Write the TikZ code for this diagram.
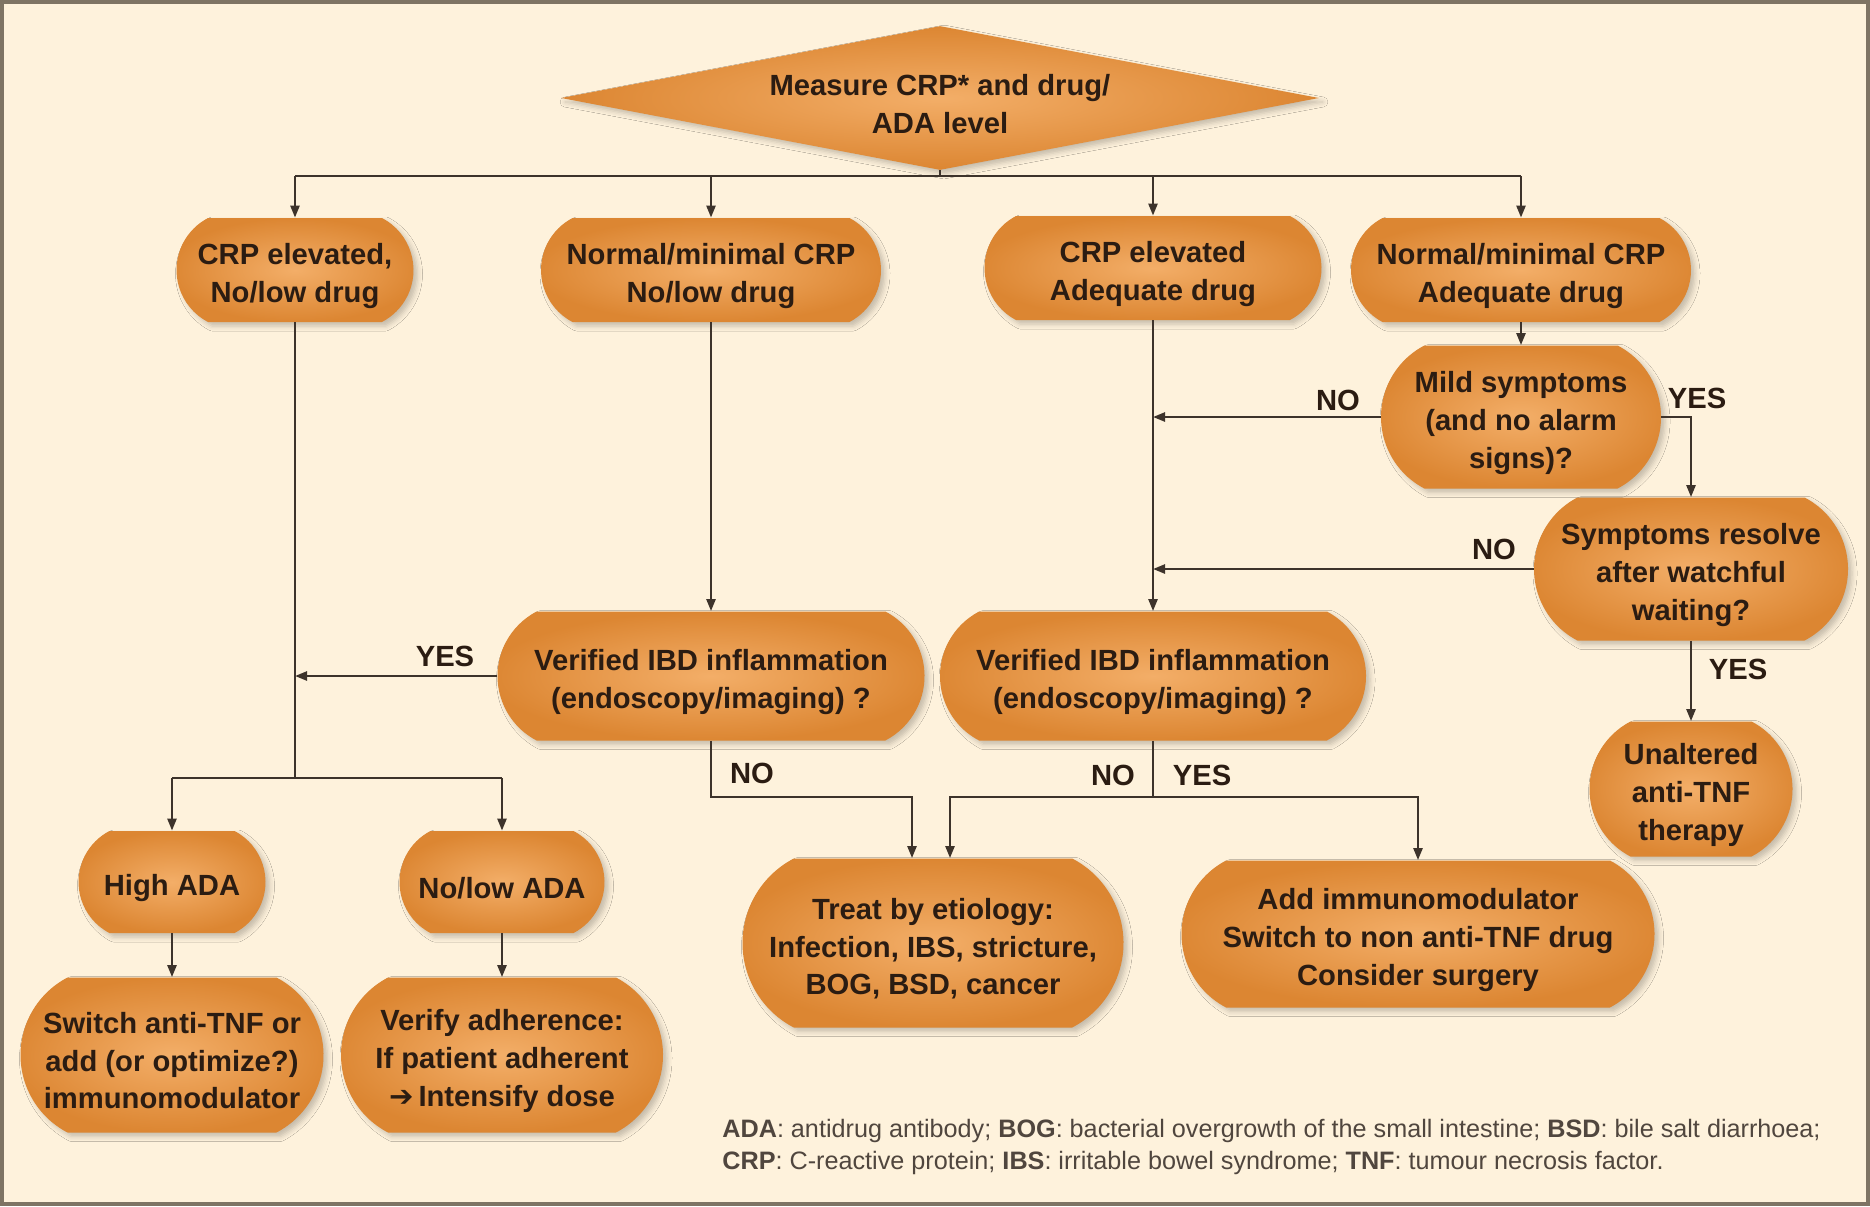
\documentclass[tikz,border=0pt]{standalone}
\usepackage{fontspec}
\setmainfont{Liberation Sans}
\usetikzlibrary{shapes.geometric,shapes.misc,shadows,shadows.blur,calc,arrows.meta}
\definecolor{bg}{HTML}{FEF2DC}
\definecolor{frameclr}{HTML}{7E7464}
\definecolor{nin}{HTML}{F3AE68}
\definecolor{nout}{HTML}{DC8632}
\definecolor{ink}{HTML}{2B1C12}
\definecolor{lin}{HTML}{3D332B}
\definecolor{footclr}{HTML}{50463E}
\newcommand\boxfont{\fontsize{14.6}{18.8}\selectfont\bfseries}
\newcommand\footfont{\fontsize{12.6}{16}\selectfont}
\newcommand\tp{\rule{0pt}{16.5pt}}
\begin{document}
\begin{tikzpicture}[x=0.5pt,y=-0.5pt,
  softshadow/.style={blur shadow={shadow xshift=2pt,shadow yshift=-2pt,shadow blur radius=2.5pt,shadow opacity=22}},
  box/.style={rounded rectangle, rounded rectangle arc length=125,
    inner color=nin, outer color=nout, draw=none, align=center,
    font=\boxfont, text=ink, inner sep=0pt, softshadow},
  arr/.style={draw=lin, line width=1.2pt, -{Triangle[length=6pt,width=4.5pt]}},
  ln/.style={draw=lin, line width=1.2pt},
  lab/.style={font=\boxfont, text=ink, inner sep=0pt}]
\useasboundingbox (0,0) rectangle (1870,1206);
\fill[bg] (0,0) rectangle (1870,1206);
\draw[frameclr, line width=2.2pt] (2.2,2.2) rectangle (1867.8,1203.8);

% top decision
\node[diamond, aspect=5.26, minimum width=379pt, minimum height=72pt, inner sep=0pt,
  inner color=nin, outer color=nout, draw=none, align=center, font=\boxfont, text=ink, softshadow]
  (top) at (940,98) {\tp Measure CRP* and drug/\\ADA level};

% row 1
\node[box, minimum width=118.5pt, minimum height=52pt] (A1) at (295,270) {\tp CRP elevated,\\No/low drug};
\node[box, minimum width=170pt, minimum height=52pt] (A2) at (711,270) {\tp Normal/minimal CRP\\No/low drug};
\node[box, minimum width=168.5pt, minimum height=52pt] (A3) at (1153,268) {\tp CRP elevated\\Adequate drug};
\node[box, minimum width=170pt, minimum height=52pt] (A4) at (1521,270) {\tp Normal/minimal CRP\\Adequate drug};

% right branch
\node[box, minimum width=140pt, minimum height=71.5pt] (B1) at (1521,417) {\tp Mild symptoms\\(and no alarm\\signs)?};
\node[box, minimum width=157pt, minimum height=71.5pt] (B2) at (1691,569) {\tp Symptoms resolve\\after watchful\\waiting?};
\node[box, minimum width=101.5pt, minimum height=67.5pt] (C4) at (1691,789) {\tp Unaltered\\anti-TNF\\therapy};

% row 3
\node[box, minimum width=213.5pt, minimum height=64.5pt] (C2) at (711,676) {\tp Verified IBD inflammation\\(endoscopy/imaging) ?};
\node[box, minimum width=213pt, minimum height=64.5pt] (C3) at (1153,676) {\tp Verified IBD inflammation\\(endoscopy/imaging) ?};

% left bottom
\node[box, minimum width=93.5pt, minimum height=51pt] (D1) at (172,882) {\tp High ADA};
\node[box, minimum width=102.5pt, minimum height=51pt] (D2) at (502,882) {\tp No/low ADA};
\node[box, minimum width=151.5pt, minimum height=77.5pt] (E1) at (172,1055) {\tp Switch anti-TNF or\\add (or optimize?)\\immunomodulator};
\node[box, minimum width=161pt, minimum height=77.5pt] (E2) at (502,1055) {\tp Verify adherence:\\If patient adherent\\{\fontspec{DejaVu Sans}\bfseries\char"2794}\,Intensify dose};

% centre bottom
\node[box, minimum width=190.5pt, minimum height=84.5pt] (F1) at (933,943) {\tp Treat by etiology:\\Infection, IBS, stricture,\\BOG, BSD, cancer};
\node[box, minimum width=236.5pt, minimum height=73.5pt] (F2) at (1418,934) {\tp Add immunomodulator\\Switch to non anti-TNF drug\\Consider surgery};

% connectors
\coordinate (hub) at (940,176);
\coordinate (lvL) at (0,778);
\coordinate (lvB) at (0,797);
\draw[ln] (top.south) -- (hub);
\draw[ln] (A1.north |- hub) -- (A4.north |- hub);
\foreach \n in {A1,A2,A3,A4} \draw[arr] (\n.north |- hub) -- (\n.north);

\draw[arr] (A4.south) -- (B1.north);
\draw[arr] (B1.west) -- (B1.west -| A3.south);
\draw[arr] (B1.east) -| (B2.north);
\draw[arr] (B2.west) -- (B2.west -| A3.south);
\draw[arr] (B2.south) -- (C4.north);
\draw[arr] (A3.south) -- (C3.north);
\draw[arr] (A2.south) -- (C2.north);
\draw[arr] (C2.west) -- (C2.west -| A1.south);

\draw[ln] (A1.south) -- (A1.south |- lvL);
\draw[ln] (D1.north |- lvL) -- (D2.north |- lvL);
\draw[arr] (D1.north |- lvL) -- (D1.north);
\draw[arr] (D2.north |- lvL) -- (D2.north);
\draw[arr] (D1.south) -- (E1.north);
\draw[arr] (D2.south) -- (E2.north);

\coordinate (F1a) at ($(F1.north)+(-21,0)$);
\coordinate (F1b) at ($(F1.north)+(17,0)$);
\draw[arr] (C2.south) |- (F1a |- lvB) -- (F1a);
\draw[arr] (C3.south) -- (C3.south |- lvB) -| (F1b);
\draw[arr] (C3.south |- lvB) -| (F2.north);

% labels
\node[lab] (l1) at (1338,400) {NO};
\node[lab] (l2) at (1697,398) {YES};
\node[lab] (l3) at (1494,549) {NO};
\node[lab] (l4) at (1738,669) {YES};
\node[lab] (l5) at (445,656) {YES};
\node[lab] (l6) at (752,773) {NO};
\node[lab] (l7) at (1113,775) {NO};
\node[lab] (l8) at (1202,775) {YES};

% footnote
\node[anchor=west, font=\footfont, text=footclr, align=left, inner sep=0pt] (fn) at (722,1147)
 {\textbf{ADA}: antidrug antibody; \textbf{BOG}: bacterial overgrowth of the small intestine; \textbf{BSD}: bile salt diarrhoea;\\
  \textbf{CRP}: C-reactive protein; \textbf{IBS}: irritable bowel syndrome; \textbf{TNF}: tumour necrosis factor.};
\end{tikzpicture}
\end{document}
